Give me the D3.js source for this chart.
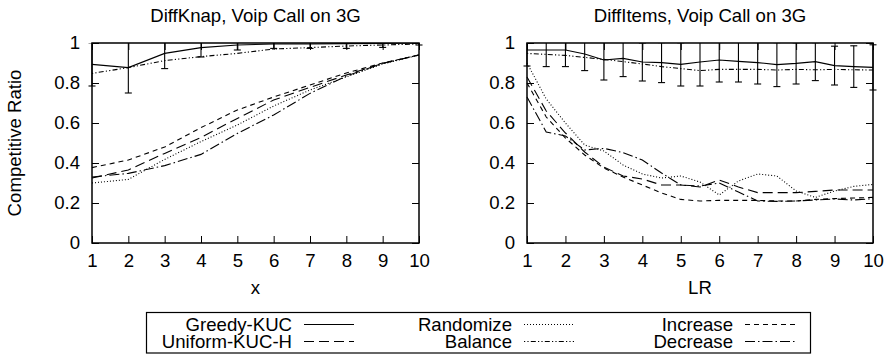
<!DOCTYPE html>
<html><head><meta charset="utf-8">
<script src="https://cdn.jsdelivr.net/npm/d3@7"></script>
<style>
body{margin:0;background:#fff}
svg{display:block}
text{font-family:"Liberation Sans",Arial,Helvetica,sans-serif;fill:#000}
</style>
</head><body>
<svg id="chart" width="888" height="356"></svg>
<script>
// ---- data ----
const knapX = [1, 2, 3, 4, 5, 6, 7, 8, 9, 10];
const knapGreedy    = [0.893, 0.877, 0.948, 0.977, 0.990, 0.995, 0.995, 0.997, 0.998, 1.000];
const knapGreedyErr = [0.108, 0.127, 0.076, 0.047, 0.025, 0.022, 0.022, 0.024, 0.020, 0.010];
const knapUniform   = [0.325, 0.365, 0.448, 0.528, 0.623, 0.715, 0.778, 0.840, 0.898, 0.940];
const knapRandomize = [0.300, 0.318, 0.418, 0.507, 0.590, 0.685, 0.765, 0.830, 0.895, 0.940];
const knapBalance   = [0.848, 0.877, 0.912, 0.932, 0.948, 0.970, 0.977, 0.985, 0.990, 0.995];
const knapIncrease  = [0.377, 0.415, 0.480, 0.577, 0.665, 0.730, 0.790, 0.850, 0.900, 0.940];
const knapDecrease  = [0.330, 0.348, 0.387, 0.443, 0.548, 0.640, 0.748, 0.835, 0.898, 0.940];

const itemsX = [1, 1.5, 2, 2.5, 3, 3.5, 4, 4.5, 5, 5.5, 6, 6.5, 7, 7.5, 8, 8.5, 9, 9.5, 10];
const itemsGreedy    = [0.965, 0.965, 0.965, 0.945, 0.915, 0.923, 0.905, 0.902, 0.893, 0.905, 0.915, 0.908, 0.902, 0.892, 0.898, 0.907, 0.887, 0.882, 0.878];
const itemsGreedyErr = [0.080, 0.083, 0.083, 0.083, 0.100, 0.091, 0.095, 0.100, 0.108, 0.120, 0.110, 0.103, 0.107, 0.110, 0.103, 0.095, 0.097, 0.104, 0.113];
const itemsUniform   = [0.830, 0.660, 0.550, 0.455, 0.380, 0.335, 0.320, 0.290, 0.290, 0.280, 0.315, 0.280, 0.252, 0.252, 0.252, 0.258, 0.265, 0.265, 0.265];
const itemsRandomize = [0.900, 0.720, 0.600, 0.490, 0.460, 0.390, 0.345, 0.325, 0.335, 0.305, 0.240, 0.310, 0.345, 0.335, 0.260, 0.228, 0.260, 0.283, 0.293];
const itemsBalance   = [0.948, 0.943, 0.938, 0.928, 0.918, 0.907, 0.895, 0.882, 0.872, 0.862, 0.868, 0.868, 0.868, 0.865, 0.868, 0.866, 0.868, 0.866, 0.865];
const itemsIncrease  = [0.800, 0.630, 0.525, 0.440, 0.375, 0.330, 0.290, 0.250, 0.218, 0.210, 0.213, 0.213, 0.213, 0.210, 0.210, 0.218, 0.222, 0.225, 0.228];
const itemsDecrease  = [0.730, 0.555, 0.535, 0.465, 0.473, 0.452, 0.415, 0.350, 0.290, 0.285, 0.300, 0.255, 0.210, 0.208, 0.210, 0.215, 0.220, 0.215, 0.222];

const xTickValues = [1, 2, 3, 4, 5, 6, 7, 8, 9, 10];
const yTickValues = [0, 0.2, 0.4, 0.6, 0.8, 1];
const panelTitles = ["DiffKnap, Voip Call on 3G", "DiffItems, Voip Call on 3G"];
const xLabels = ["x", "LR"];
const yLabel = "Competitive Ratio";
const seriesNames = ["Greedy-KUC", "Uniform-KUC-H", "Randomize", "Balance", "Increase", "Decrease"];

// ---- styles ----
const dashes = {
  "Greedy-KUC": null,
  "Uniform-KUC-H": "10,5",
  "Randomize": "1,2",
  "Balance": "1.2,2.2,1.2,2.2,5,2.2",
  "Increase": "5,4",
  "Decrease": "10,3,1.5,3"
};
const FONT = 18.6;

const svg = d3.select("#chart");

function drawPanel(cfg, idx) {
  const top = 43, bottom = 243;
  const x = d3.scaleLinear().domain([1, 10]).range([cfg.left, cfg.right]);
  const y = d3.scaleLinear().domain([0, 1]).range([bottom, top]);
  const g = svg.append("g");

  const clipId = "clip" + idx;
  svg.append("clipPath").attr("id", clipId)
    .append("rect")
    .attr("x", cfg.left - 12).attr("y", top)
    .attr("width", cfg.right - cfg.left + 24).attr("height", bottom - top);

  // axes with inward ticks on all four sides
  const styleAxis = sel => {
    sel.select(".domain").remove();
    sel.selectAll("line").attr("stroke", "#000").attr("stroke-width", 1);
    sel.selectAll("text").attr("font-size", FONT).attr("font-family", null);
  };
  g.append("g").attr("transform", `translate(0,${bottom})`)
    .call(d3.axisBottom(x).tickValues(xTickValues).tickSize(-7).tickPadding(11).tickFormat(d3.format("d")))
    .call(styleAxis);
  g.append("g").attr("transform", `translate(0,${top})`)
    .call(d3.axisTop(x).tickValues(xTickValues).tickSize(-7).tickFormat(""))
    .call(styleAxis);
  g.append("g").attr("transform", `translate(${cfg.left},0)`)
    .call(d3.axisLeft(y).tickValues(yTickValues).tickSize(-7).tickPadding(12).tickFormat(d => String(d)))
    .call(styleAxis);
  g.append("g").attr("transform", `translate(${cfg.right},0)`)
    .call(d3.axisRight(y).tickValues(yTickValues).tickSize(-7).tickFormat(""))
    .call(styleAxis);

  // series lines
  const line = d3.line().x((d, i) => x(cfg.xs[i])).y(d => y(d));
  const plot = g.append("g").attr("clip-path", `url(#${clipId})`);
  cfg.series.forEach((vals, k) => {
    plot.append("path")
      .attr("d", line(vals))
      .attr("fill", "none")
      .attr("stroke", "#000")
      .attr("stroke-width", 1.1)
      .attr("stroke-dasharray", dashes[seriesNames[k]]);
  });

  // error bars on the greedy series
  const eb = plot.append("g").attr("stroke", "#000").attr("stroke-width", 1.1);
  cfg.xs.forEach((xv, i) => {
    const m = cfg.series[0][i], e = cfg.err[i];
    const px = x(xv), y0 = y(m - e), y1 = y(m + e);
    eb.append("line").attr("x1", px).attr("x2", px).attr("y1", y0).attr("y2", y1);
    eb.append("line").attr("x1", px - 3.5).attr("x2", px + 3.5).attr("y1", y0).attr("y2", y0);
    eb.append("line").attr("x1", px - 3.5).attr("x2", px + 3.5).attr("y1", y1).attr("y2", y1);
  });

  // frame
  g.append("rect")
    .attr("x", cfg.left).attr("y", top)
    .attr("width", cfg.right - cfg.left).attr("height", bottom - top)
    .attr("fill", "none").attr("stroke", "#000").attr("stroke-width", 1.5);

  // titles
  const cx = (cfg.left + cfg.right) / 2;
  g.append("text").attr("x", cx).attr("y", 22).attr("text-anchor", "middle")
    .attr("font-size", FONT).text(panelTitles[idx]);
  g.append("text").attr("x", cx).attr("y", 294).attr("text-anchor", "middle")
    .attr("font-size", FONT).text(xLabels[idx]);
}

drawPanel({
  left: 92, right: 419, xs: knapX, err: knapGreedyErr,
  series: [knapGreedy, knapUniform, knapRandomize, knapBalance, knapIncrease, knapDecrease]
}, 0);
drawPanel({
  left: 527, right: 873, xs: itemsX, err: itemsGreedyErr,
  series: [itemsGreedy, itemsUniform, itemsRandomize, itemsBalance, itemsIncrease, itemsDecrease]
}, 1);

// y axis label
svg.append("text")
  .attr("transform", "translate(20.5,143) rotate(-90)")
  .attr("text-anchor", "middle").attr("font-size", FONT)
  .text(yLabel);

// legend
const legend = svg.append("g");
legend.append("rect")
  .attr("x", 146.5).attr("y", 312.5).attr("width", 664).attr("height", 40.5)
  .attr("fill", "none").attr("stroke", "#000").attr("stroke-width", 1.2);
const colTextEnd = [292, 512, 733];
const rowBase = [331, 348];
seriesNames.forEach((name, k) => {
  const c = Math.floor(k / 2), r = k % 2;
  legend.append("text")
    .attr("x", colTextEnd[c]).attr("y", rowBase[r])
    .attr("text-anchor", "end").attr("font-size", FONT).text(name);
  const ly = rowBase[r] - 6.5;
  legend.append("line")
    .attr("x1", colTextEnd[c] + 12).attr("x2", colTextEnd[c] + 62)
    .attr("y1", ly).attr("y2", ly)
    .attr("stroke", "#000").attr("stroke-width", 1.1)
    .attr("stroke-dasharray", dashes[name]);
});
</script>
</body></html>
